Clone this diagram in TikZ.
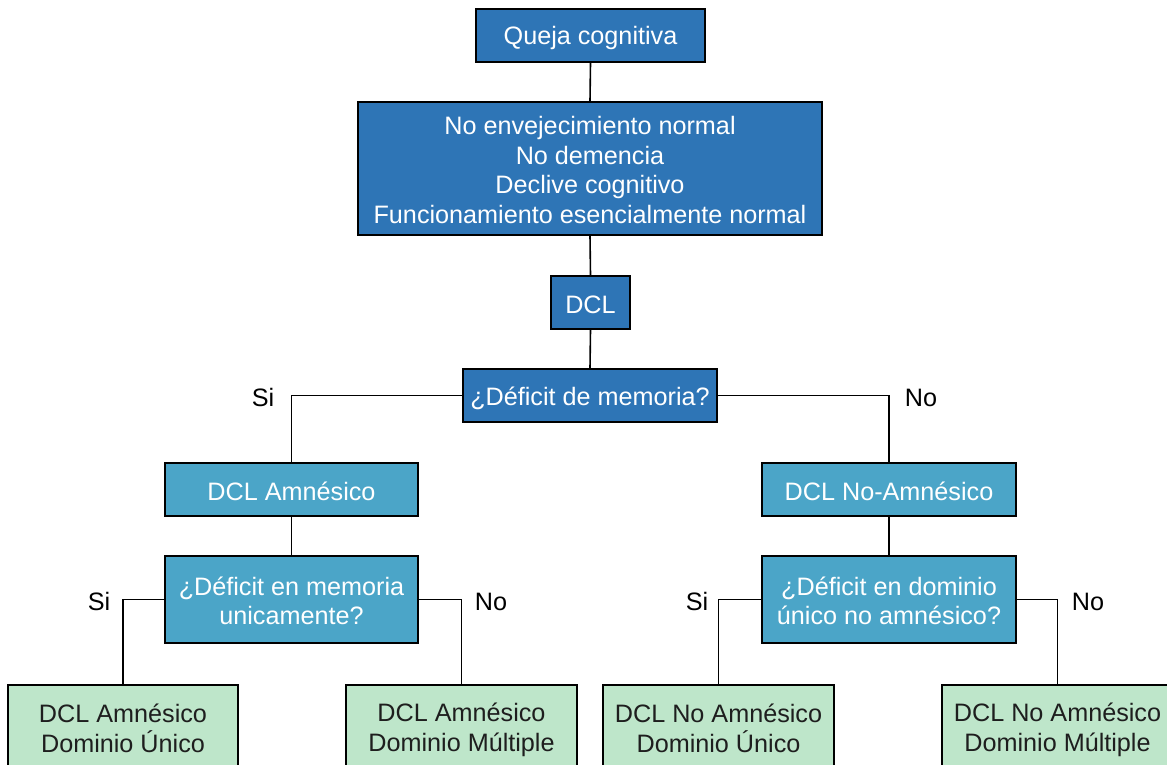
\documentclass[tikz,border=0pt]{standalone}
\usepackage{fontspec}
\setmainfont{Liberation Sans}
\definecolor{dblue}{RGB}{46,117,182}
\definecolor{mblue}{RGB}{75,165,200}
\definecolor{lgreen}{RGB}{190,230,202}
\definecolor{dtext}{RGB}{30,30,30}
\newcommand\vs{\rule[-3pt]{0pt}{27pt}}
\begin{document}
\begin{tikzpicture}[x=1pt,y=-1pt,
  base/.style={draw=black, line width=1.6pt, align=center, inner sep=0pt,
    font=\fontsize{25.2}{29.8}\selectfont},
  bbox/.style={base, fill=dblue, text=white},
  mbox/.style={base, fill=mblue, text=white},
  gbox/.style={base, fill=lgreen, text=dtext},
  conn/.style={draw=black, line width=1.6pt},
  lab/.style={font=\fontsize{25.2}{29.8}\selectfont, text=black, inner sep=0pt}]
\useasboundingbox (0,0) rectangle (1167,765);
\fill[white] (0,0) rectangle (1167,765);
\node[bbox, minimum width=229pt, minimum height=53pt] (q) at (590.5,35.5) {\vs Queja cognitiva};
\node[bbox, minimum width=464pt, minimum height=133pt] (n) at (590,168.5) {\vs No envejecimiento normal\\\vs No demencia\\\vs Declive cognitivo\\\vs Funcionamiento esencialmente normal};
\node[bbox, minimum width=79pt, minimum height=53pt] (dcl) at (590.5,302.5) {\vs DCL};
\node[bbox, minimum width=254pt, minimum height=53pt] (dm) at (590,395.5) {\vs ¿Déficit de memoria?};
\node[mbox, minimum width=253pt, minimum height=53pt] (am) at (291.5,489.5) {\vs DCL Amnésico};
\node[mbox, minimum width=254pt, minimum height=53pt] (nam) at (889,489.5) {\vs DCL No-Amnésico};
\node[mbox, minimum width=253pt, minimum height=87pt] (qa) at (291.5,599.5) {\vs ¿Déficit en memoria\\\vs unicamente?};
\node[mbox, minimum width=254pt, minimum height=87pt] (qn) at (889,599.5) {\vs ¿Déficit en dominio\\\vs único no amnésico?};
\node[gbox, minimum width=230pt, minimum height=84pt, anchor=north] (g1) at (123,684) {\vs DCL Amnésico\\\vs Dominio Único};
\node[gbox, minimum width=231pt, minimum height=84pt, anchor=north] (g2) at (461.5,684) {\vs DCL Amnésico\\\vs Dominio Múltiple};
\node[gbox, minimum width=231pt, minimum height=84pt, anchor=north] (g3) at (718.5,684) {\vs DCL No Amnésico\\\vs Dominio Único};
\node[gbox, minimum width=231pt, minimum height=84pt, anchor=north] (g4) at (1057.5,684) {\vs DCL No Amnésico\\\vs Dominio Múltiple};
\path[conn] (q.south) -- (n.north);
\path[conn] (n.south) -- (dcl.north);
\path[conn] (dcl.south) -- (dm.north);
\path[conn] (dm.west) -| (am.north);
\path[conn] (dm.east) -| (nam.north);
\path[conn] (am.south) -- (qa.north);
\path[conn] (nam.south) -- (qn.north);
\path[conn] (qa.west) -| (g1.north);
\path[conn] (qa.east) -| (g2.north);
\path[conn] (qn.west) -| (g3.north);
\path[conn] (qn.east) -| (g4.north);
\node[lab] (s1) at (263,396) {\vs Si};
\node[lab] (n1) at (921,396) {\vs No};
\node[lab] (s2) at (99,600) {\vs Si};
\node[lab] (n2) at (491,600) {\vs No};
\node[lab] (s3) at (697,600) {\vs Si};
\node[lab] (n3) at (1088,600) {\vs No};
\end{tikzpicture}
\end{document}
